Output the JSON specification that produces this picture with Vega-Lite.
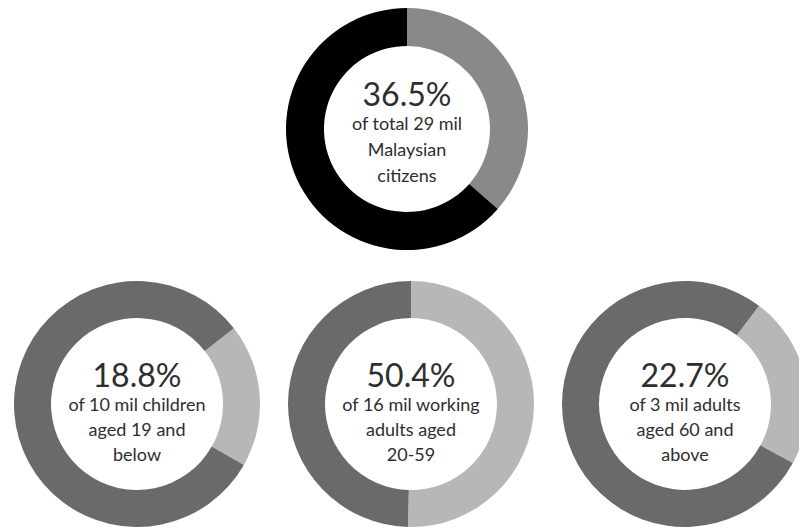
{
  "$schema": "https://vega.github.io/schema/vega-lite/v6.json",
  "padding": 0,
  "background": "white",
  "spacing": 10,
  "resolve": {"scale": {"color": "independent", "theta": "independent"}},
  "config": {
    "view": {"stroke": null},
    "concat": {"spacing": 0},
    "text": {"font": "Lato", "color": "#2e2e2e"}
  },
  "vconcat": [
    {
      "width": 814,
      "height": 258,
      "layer": [
        {
          "data": {"values": [{"part": "share", "value": 36.5}, {"part": "rest", "value": 63.5}]},
          "mark": {"type": "arc", "radius": 121, "innerRadius": 83},
          "encoding": {
            "theta": {"field": "value", "type": "quantitative", "stack": true, "scale": {"range": [0, 6.2832]}},
            "color": {"field": "part", "type": "nominal", "scale": {"domain": ["share", "rest"], "range": ["#898989", "#000000"]}, "legend": null},
            "order": {"field": "part", "sort": "descending"}
          }
        },
        {
          "data": {"values": [{"big": "36.5%", "desc": "of total 29 mil\nMalaysian\ncitizens"}]},
          "layer": [
            {"mark": {"type": "text", "fontSize": 32, "baseline": "alphabetic", "dy": -23}, "encoding": {"text": {"field": "big", "type": "nominal"}}},
            {"mark": {"type": "text", "fontSize": 18, "baseline": "top", "dy": -13, "lineBreak": "\n", "lineHeight": 26}, "encoding": {"text": {"field": "desc", "type": "nominal"}}}
          ]
        }
      ]
    },
    {
      "resolve": {"scale": {"color": "independent", "theta": "independent"}},
      "hconcat": [
        {
          "width": 274,
          "height": 272,
          "layer": [
            {
              "data": {"values": [{"part": "share", "value": 18.8}, {"part": "rest", "value": 81.2}]},
              "mark": {"type": "arc", "radius": 123, "innerRadius": 86},
              "encoding": {
                "theta": {"field": "value", "type": "quantitative", "stack": true, "scale": {"range": [0.9076, 7.1908]}},
                "color": {"field": "part", "type": "nominal", "scale": {"domain": ["share", "rest"], "range": ["#b7b7b7", "#6a6a6a"]}, "legend": null},
                "order": {"field": "part", "sort": "descending"}
              }
            },
            {
              "data": {"values": [{"big": "18.8%", "desc": "of 10 mil children\naged 19 and\nbelow"}]},
              "layer": [
                {"mark": {"type": "text", "fontSize": 32, "baseline": "alphabetic", "dy": -17}, "encoding": {"text": {"field": "big", "type": "nominal"}}},
                {"mark": {"type": "text", "fontSize": 18, "baseline": "top", "dy": -7, "lineBreak": "\n", "lineHeight": 25}, "encoding": {"text": {"field": "desc", "type": "nominal"}}}
              ]
            }
          ]
        },
        {
          "width": 274,
          "height": 272,
          "layer": [
            {
              "data": {"values": [{"part": "share", "value": 50.4}, {"part": "rest", "value": 49.6}]},
              "mark": {"type": "arc", "radius": 123, "innerRadius": 86},
              "encoding": {
                "theta": {"field": "value", "type": "quantitative", "stack": true, "scale": {"range": [0, 6.2832]}},
                "color": {"field": "part", "type": "nominal", "scale": {"domain": ["share", "rest"], "range": ["#b7b7b7", "#6a6a6a"]}, "legend": null},
                "order": {"field": "part", "sort": "descending"}
              }
            },
            {
              "data": {"values": [{"big": "50.4%", "desc": "of 16 mil working\nadults aged\n20-59"}]},
              "layer": [
                {"mark": {"type": "text", "fontSize": 32, "baseline": "alphabetic", "dy": -17}, "encoding": {"text": {"field": "big", "type": "nominal"}}},
                {"mark": {"type": "text", "fontSize": 18, "baseline": "top", "dy": -7, "lineBreak": "\n", "lineHeight": 25}, "encoding": {"text": {"field": "desc", "type": "nominal"}}}
              ]
            }
          ]
        },
        {
          "width": 274,
          "height": 272,
          "layer": [
            {
              "data": {"values": [{"part": "share", "value": 22.7}, {"part": "rest", "value": 77.3}]},
              "mark": {"type": "arc", "radius": 123, "innerRadius": 86},
              "encoding": {
                "theta": {"field": "value", "type": "quantitative", "stack": true, "scale": {"range": [0.6458, 6.929]}},
                "color": {"field": "part", "type": "nominal", "scale": {"domain": ["share", "rest"], "range": ["#b7b7b7", "#6a6a6a"]}, "legend": null},
                "order": {"field": "part", "sort": "descending"}
              }
            },
            {
              "data": {"values": [{"big": "22.7%", "desc": "of 3 mil adults\naged 60 and\nabove"}]},
              "layer": [
                {"mark": {"type": "text", "fontSize": 32, "baseline": "alphabetic", "dy": -17}, "encoding": {"text": {"field": "big", "type": "nominal"}}},
                {"mark": {"type": "text", "fontSize": 18, "baseline": "top", "dy": -7, "lineBreak": "\n", "lineHeight": 25}, "encoding": {"text": {"field": "desc", "type": "nominal"}}}
              ]
            }
          ]
        }
      ]
    }
  ]
}
